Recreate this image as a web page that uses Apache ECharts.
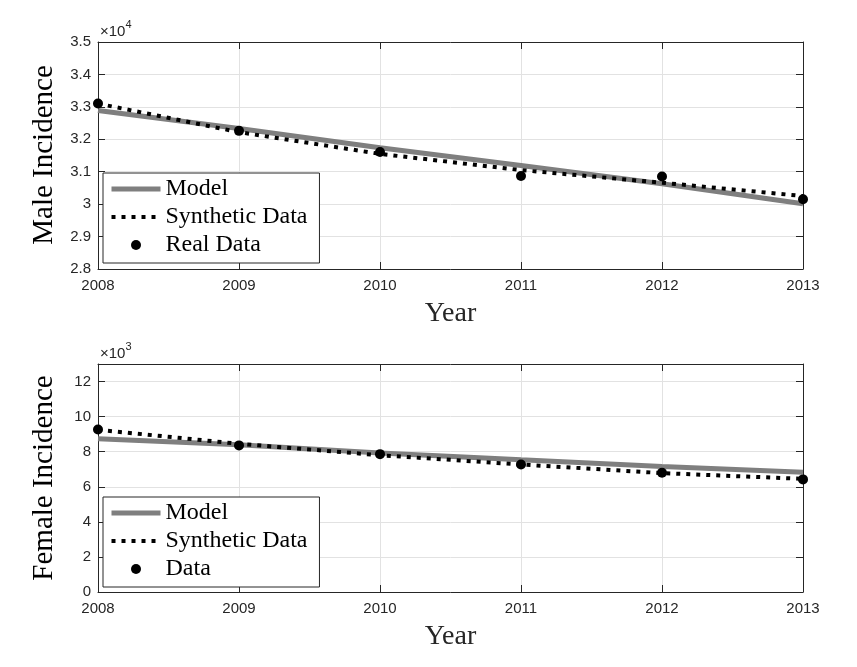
<!DOCTYPE html>
<html>
<head>
<meta charset="utf-8">
<script src="https://cdn.jsdelivr.net/npm/echarts@6/dist/echarts.min.js"></script>
<style>html,body{margin:0;padding:0;background:#fff}#c{width:857px;height:667px}</style>
</head>
<body>
<div id="c"></div>
<script>
const years = [2008, 2009, 2010, 2011, 2012, 2013];
const maleModel = [32890, 32330, 31740, 31190, 30630, 30010];
const maleSynthetic = [33100, 32220, 31550, 31050, 30660, 30250];
const maleReal = [33105, 32260, 31610, 30870, 30850, 30150];
const femaleModel = [8740, 8390, 7930, 7540, 7160, 6830];
const femaleSynthetic = [9250, 8450, 7800, 7270, 6780, 6450];
const femaleReal = [9270, 8360, 7860, 7270, 6800, 6420];
const legendTop = ['Model', 'Synthetic Data', 'Real Data'];
const legendBottom = ['Model', 'Synthetic Data', 'Data'];

const pair = (xs, ys) => xs.map((x, i) => [x, ys[i]]);
const AX = '#262626', GRID = '#e2e2e2';
const SANS = '"Liberation Sans", Arial, sans-serif';
const SERIF = '"Liberation Serif", "DejaVu Serif", serif';

function fmt(div) {
  return v => { const r = Math.round(v / div * 1000) / 1000; return String(r); };
}
function xMain(gi) {
  return {
    type: 'value', gridIndex: gi, min: 2008, max: 2013, interval: 1,
    name: 'Year', nameLocation: 'middle', nameGap: 31,
    nameTextStyle: {fontFamily: SERIF, fontSize: 28, color: AX, verticalAlign: 'top'},
    axisLine: {show: true, onZero: false, lineStyle: {color: AX, width: 1}},
    axisTick: {show: true, inside: true, length: 7, lineStyle: {color: AX}},
    axisLabel: {color: AX, fontFamily: SANS, fontSize: 15, margin: 9, formatter: v => String(v)},
    splitLine: {show: true, lineStyle: {color: GRID, width: 1}}
  };
}
function xTop(gi) {
  return {
    type: 'value', gridIndex: gi, min: 2008, max: 2013, interval: 1, position: 'top',
    axisLine: {show: true, onZero: false, lineStyle: {color: AX, width: 1}},
    axisTick: {show: true, inside: true, length: 7, lineStyle: {color: AX}},
    axisLabel: {show: false}, splitLine: {show: false}
  };
}
function yMain(gi, min, max, interval, div, exp, showMax) {
  return {
    type: 'value', gridIndex: gi, min: min, max: max, interval: interval,
    name: '{a|×10}{b|' + exp + '}', nameLocation: 'end', nameGap: 3,
    nameTextStyle: {
      align: 'left', padding: [0, 0, 0, 2],
      rich: {
        a: {fontFamily: SANS, fontSize: 15, color: AX, lineHeight: 20, verticalAlign: 'bottom'},
        b: {fontFamily: SANS, fontSize: 11, color: AX, lineHeight: 20, verticalAlign: 'top'}
      }
    },
    axisLine: {show: true, onZero: false, lineStyle: {color: AX, width: 1}},
    axisTick: {show: true, inside: true, length: 7, lineStyle: {color: AX}},
    axisLabel: {color: AX, fontFamily: SANS, fontSize: 15, margin: 7, formatter: fmt(div), showMaxLabel: showMax},
    splitLine: {show: true, lineStyle: {color: GRID, width: 1}}
  };
}
function yRight(gi, min, max, interval) {
  return {
    type: 'value', gridIndex: gi, min: min, max: max, interval: interval, position: 'right',
    axisLine: {show: true, onZero: false, lineStyle: {color: AX, width: 1}},
    axisTick: {show: true, inside: true, length: 7, lineStyle: {color: AX}},
    axisLabel: {show: false}, splitLine: {show: false}
  };
}
function lines(xi, yi, model, synth, real, realName) {
  return [
    {name: 'Model', type: 'line', xAxisIndex: xi, yAxisIndex: yi, data: pair(years, model),
     symbol: 'none', z: 2, lineStyle: {color: '#7f7f7f', width: 5}, itemStyle: {color: '#7f7f7f'}},
    {name: 'Synthetic Data', type: 'line', xAxisIndex: xi, yAxisIndex: yi, data: pair(years, synth),
     symbol: 'none', z: 3, lineStyle: {color: '#000', width: 4, type: [4, 6], cap: 'butt'}, itemStyle: {color: '#000'}},
    {name: realName, type: 'scatter', xAxisIndex: xi, yAxisIndex: yi, data: pair(years, real),
     symbol: 'circle', symbolSize: 10, z: 4, itemStyle: {color: '#000', opacity: 1}}
  ];
}
function legend(top, names) {
  const hidden = {color: 'rgba(0,0,0,0)', borderWidth: 0, opacity: 0};
  return {
    data: [
      {name: names[0], itemStyle: hidden, lineStyle: {width: 5, color: '#7f7f7f'}},
      {name: names[1], itemStyle: hidden, lineStyle: {width: 4, color: '#000', type: [4, 6], cap: 'butt'}},
      {name: names[2], icon: 'circle', itemStyle: {color: '#000', opacity: 1}}
    ],
    orient: 'vertical', left: 103, top: top, selectedMode: false,
    itemWidth: 49, itemHeight: 10, itemGap: 4, itemTextGap: 6,
    padding: [4, 12, 6, 6],
    backgroundColor: '#fff', borderColor: AX, borderWidth: 1, borderRadius: 0,
    textStyle: {fontFamily: SERIF, fontSize: 24, color: '#000'}
  };
}

const chart = echarts.init(document.getElementById('c'), null, {renderer: 'canvas'});
chart.setOption({
  animation: false,
  grid: [
    {left: 98, right: 54, top: 42, bottom: 398, containLabel: false},
    {left: 98, right: 54, top: 364, bottom: 75, containLabel: false}
  ],
  xAxis: [xMain(0), xTop(0), xMain(1), xTop(1)],
  yAxis: [yMain(0, 28000, 35000, 1000, 10000, 4, true), yRight(0, 28000, 35000, 1000),
          yMain(1, 0, 13000, 2000, 1000, 3, false), yRight(1, 0, 13000, 2000)],
  legend: [legend(173, legendTop), legend(497, legendBottom)],
  graphic: [
    {type: 'text', rotation: Math.PI / 2, x: 44, y: 155,
     style: {text: 'Male Incidence', font: '29px ' + SERIF, fill: '#000', align: 'center', verticalAlign: 'middle'}},
    {type: 'text', rotation: Math.PI / 2, x: 44, y: 478,
     style: {text: 'Female Incidence', font: '29px ' + SERIF, fill: '#000', align: 'center', verticalAlign: 'middle'}}
  ],
  series: [].concat(
    lines(0, 0, maleModel, maleSynthetic, maleReal, 'Real Data'),
    lines(2, 2, femaleModel, femaleSynthetic, femaleReal, 'Data')
  )
});
</script>
</body>
</html>
